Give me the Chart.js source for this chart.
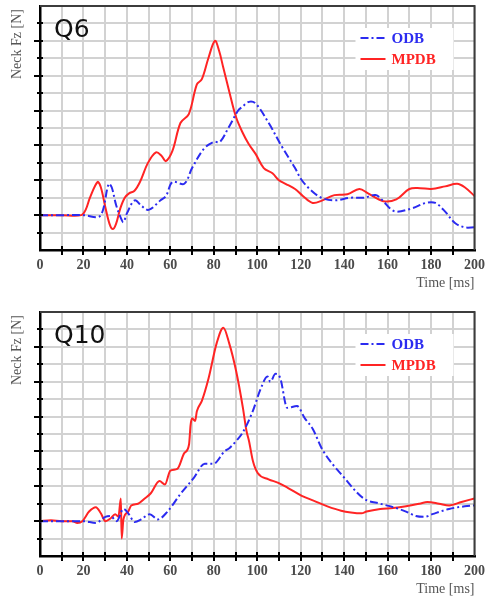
<!DOCTYPE html>
<html>
<head>
<meta charset="utf-8">
<script src="https://cdn.jsdelivr.net/npm/chart.js@4.4.1/dist/chart.umd.min.js"></script>
<style>
  body { margin: 0; background: #fff; width: 492px; height: 598px; overflow: hidden; }
  .box { position: absolute; left: 0; width: 492px; }
  #b1 { top: 0; height: 300px; }
  #b2 { top: 300px; height: 298px; }
</style>
</head>
<body>
<div class="box" id="b1"><canvas id="q6" width="492" height="300"></canvas></div>
<div class="box" id="b2"><canvas id="q10" width="492" height="298"></canvas></div>
<script>
// values (time in ms, force in grid units, 0 = baseline)
const q6OdbT  = [0, 10, 20, 27, 29, 31.6, 33, 35, 37, 38.4, 40, 43.6, 47, 50, 55.5, 58, 61, 66.4, 70, 75.4, 79.9, 82.8, 86.7, 91.2, 93, 96.2, 99.3, 105.2, 111.5, 117.4, 120.5, 125, 129.5, 135.5, 143, 149, 154.5, 158, 161, 164, 171.5, 177.5, 182, 186.5, 191, 195.5, 200];
const q6OdbV  = [0, 0, 0, -0.1, 0.3, 1.8, 1.6, 0.6, -0.1, -0.4, 0.1, 0.85, 0.5, 0.3, 0.85, 1.1, 1.9, 1.8, 2.7, 3.8, 4.2, 4.2, 5.0, 6.0, 6.2, 6.5, 6.4, 5.3, 3.9, 2.7, 2.0, 1.4, 1.0, 0.85, 1.0, 1.0, 1.15, 0.8, 0.4, 0.2, 0.4, 0.7, 0.7, 0.2, -0.45, -0.7, -0.7];
const q6MpdbT = [0, 10, 19, 21, 23, 26.5, 28, 30, 32, 33.5, 35, 37, 39, 41, 43.5, 46, 49.7, 53.4, 56, 57.9, 61, 64.7, 68.5, 72.2, 74.5, 77.5, 80.5, 82.5, 84.3, 87.3, 90.3, 93.4, 96, 99.3, 103, 107, 110, 113, 117.4, 121, 125.5, 130, 135.5, 141.5, 147, 151, 158, 164, 170, 175, 180, 186.5, 192, 195.5, 200];
const q6MpdbV = [0, 0, 0, 0.3, 1.0, 1.9, 1.6, 0.5, -0.5, -0.8, -0.5, 0.4, 1.0, 1.25, 1.4, 1.9, 3.0, 3.6, 3.4, 3.1, 3.7, 5.3, 5.8, 7.5, 7.8, 9.0, 10.0, 9.4, 8.5, 7.0, 5.6, 4.7, 4.1, 3.5, 2.7, 2.4, 2.0, 1.8, 1.5, 1.1, 0.7, 0.85, 1.15, 1.2, 1.5, 1.25, 0.8, 0.9, 1.5, 1.55, 1.5, 1.65, 1.8, 1.6, 1.1];

const q10OdbT  = [0, 10, 20, 25.7, 28, 30.1, 32.4, 35.3, 38.4, 40.6, 43.6, 46.6, 50.5, 54.2, 58.7, 64.6, 70.9, 75.8, 79.9, 84.9, 87.3, 90.3, 93.4, 97.9, 101.6, 104.7, 106, 108.4, 110.6, 113.8, 118.3, 121.9, 125.5, 130, 140, 149, 156.6, 164, 168.5, 173, 177, 180.6, 188.3, 195.5, 200];
const q10OdbV  = [0, 0, 0, -0.1, 0.05, 0.25, 0.3, 0, 0.7, 0.45, -0.05, 0.1, 0.4, 0.1, 0.55, 1.55, 2.5, 3.3, 3.3, 4.0, 4.2, 4.6, 5.1, 6.3, 7.6, 8.3, 8.0, 8.45, 8.2, 6.5, 6.6, 5.9, 5.3, 4.1, 2.5, 1.3, 1.0, 0.75, 0.55, 0.3, 0.25, 0.4, 0.7, 0.85, 0.9];
const q10MpdbT = [0, 5, 10, 15, 17.2, 19.5, 22.6, 25.7, 28, 30.1, 32.4, 34.6, 36.1, 37.2, 37.6, 38.4, 40.6, 42, 45.1, 48.2, 51, 55, 57.5, 60, 63.2, 66.4, 68.6, 69.3, 70, 71.4, 72.2, 74.5, 77.6, 81.3, 84.4, 87.1, 90.3, 93.4, 95, 96.2, 98, 100.2, 105.2, 109.7, 114.2, 120.5, 126.4, 132.3, 138.6, 143.1, 148, 150.3, 156.6, 162.5, 168.5, 174.7, 178.3, 183.7, 188.3, 194, 200];
const q10MpdbV = [0, 0.05, 0, 0, -0.1, 0, 0.55, 0.8, 0.45, 0, 0.15, 0.4, 0.25, 1.3, -1.0, 0.1, 0.55, 0.9, 1.0, 1.3, 1.6, 2.3, 2.1, 2.9, 3.0, 3.9, 4.4, 5.5, 5.9, 5.75, 6.3, 6.9, 8.2, 10.2, 11.1, 10.2, 8.6, 6.5, 5.2, 4.6, 3.45, 2.76, 2.4, 2.2, 1.9, 1.45, 1.15, 0.85, 0.6, 0.5, 0.45, 0.55, 0.7, 0.75, 0.85, 1.0, 1.1, 1.0, 0.9, 1.1, 1.3];

const seriesNames = ['ODB', 'MPDB'];
const seriesColors = ['#2b2bf0', '#ff2424'];
const xTicksStep = 10;   // grid every 10 ms, labels every 20 ms
const yMin = -2, yMax = 12;

function pts(t, v) {
    return t.map((x, i) => ({ x: x, y: v[i] }));
}

// frame, tick marks, titles and the small legend box
const decor = {
    id: 'decor',
    afterDatasetsDraw(chart, args, opts) {
        const c = chart.ctx, a = chart.chartArea;
        const xs = chart.scales.x, ys = chart.scales.y;
        c.save();
        // top and right frame
        c.strokeStyle = '#3c3c3c';
        c.lineWidth = 2;
        c.beginPath();
        c.moveTo(a.left, a.top); c.lineTo(a.right, a.top); c.lineTo(a.right, a.bottom);
        c.stroke();
        // tick marks
        c.strokeStyle = '#000';
        c.lineWidth = 2;
        c.beginPath();
        for (let v = 10; v < 200; v += xTicksStep) {
            const px = Math.round(xs.getPixelForValue(v));
            c.moveTo(px, a.bottom - 4); c.lineTo(px, a.bottom + 5);
        }
        for (let v = yMin + 1; v < yMax; v++) {
            const py = Math.round(ys.getPixelForValue(v));
            c.moveTo(v % 2 === 0 ? a.left - 6 : a.left - 3, py); c.lineTo(a.left + 3, py);
        }
        c.stroke();
        // panel title
        c.fillStyle = '#111';
        c.font = '25px "DejaVu Sans"';
        c.textBaseline = 'alphabetic';
        c.fillText(opts.title, a.left + 14, a.top + 31);
        // axis titles
        c.fillStyle = '#555';
        c.font = '14px "Liberation Serif"';
        c.textAlign = 'right';
        c.fillText('Time [ms]', a.right, a.bottom + 37);
        c.save();
        c.translate(17, a.top + 38);
        c.rotate(-Math.PI / 2);
        c.textAlign = 'center';
        c.textBaseline = 'middle';
        c.fillText('Neck Fz [N]', 0, 0);
        c.restore();
        // legend
        const lx = a.right - 119, ly = a.top + 22;
        c.fillStyle = '#fff';
        c.fillRect(lx, ly, 98, 42);
        c.textAlign = 'left';
        c.textBaseline = 'middle';
        c.font = 'bold 15px "Liberation Serif"';
        chart.data.datasets.forEach((ds, i) => {
            const yy = ly + 10 + i * 21;
            c.strokeStyle = ds.borderColor;
            c.lineWidth = 2;
            c.setLineDash(ds.borderDash || []);
            c.beginPath();
            c.moveTo(lx + 5, yy); c.lineTo(lx + 30, yy);
            c.stroke();
            c.setLineDash([]);
            c.fillStyle = ds.borderColor;
            c.fillText(ds.label, lx + 36, yy + 1);
        });
        c.restore();
    }
};

function makeChart(id, title, odb, mpdb, padTop, axisH, smooth) {
    const ctx = document.getElementById(id).getContext('2d');
    const curve = smooth ? { tension: 0.35 } : { cubicInterpolationMode: 'monotone' };
    return new Chart(ctx, {
        type: 'line',
        data: {
            datasets: [Object.assign({
                label: seriesNames[0],
                data: odb,
                borderColor: seriesColors[0],
                borderWidth: 2,
                borderDash: [8, 3, 2, 3],
                pointRadius: 0
            }, curve), Object.assign({
                label: seriesNames[1],
                data: mpdb,
                borderColor: seriesColors[1],
                borderWidth: 2,
                pointRadius: 0
            }, curve)]
        },
        options: {
            responsive: false,
            animation: false,
            devicePixelRatio: 1,
            layout: { padding: { top: padTop, right: 9, left: 0, bottom: 0 } },
            plugins: {
                legend: { display: false },
                tooltip: { enabled: false },
                decor: { title: title }
            },
            scales: {
                x: {
                    type: 'linear',
                    min: 0, max: 200,
                    afterFit: function (scale) { scale.height = axisH; },
                    grid: { color: '#d2d2d2', lineWidth: 2, drawTicks: false },
                    border: { color: '#000', width: 2.5 },
                    ticks: {
                        stepSize: xTicksStep,
                        autoSkip: false,
                        maxRotation: 0,
                        padding: 7,
                        color: '#4a4a4a',
                        font: { family: 'Liberation Serif', size: 14, weight: 'bold' },
                        callback: function (v) { return v % 20 === 0 ? v : ''; }
                    }
                },
                y: {
                    min: yMin, max: yMax,
                    afterFit: function (scale) { scale.width = 40; },
                    grid: { color: '#d2d2d2', lineWidth: 2, drawTicks: false },
                    border: { color: '#000', width: 2.5 },
                    ticks: { stepSize: 1, display: false }
                }
            }
        },
        plugins: [decor]
    });
}

makeChart('q6', 'Q6', pts(q6OdbT, q6OdbV), pts(q6MpdbT, q6MpdbV), 6, 50, true);
makeChart('q10', 'Q10', pts(q10OdbT, q10OdbV), pts(q10MpdbT, q10MpdbV), 12, 42, false);
</script>
</body>
</html>
